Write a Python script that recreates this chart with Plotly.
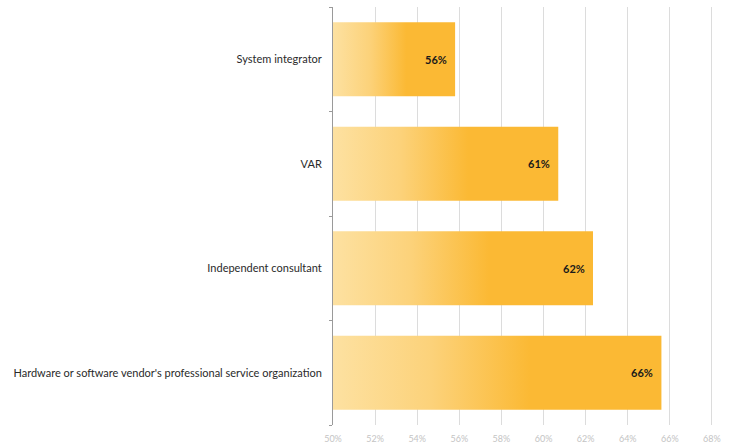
import plotly.graph_objects as go

categories = [
    "System integrator",
    "VAR",
    "Independent consultant",
    "Hardware or software vendor's professional service organization",
]
shares = [55.8, 60.7, 62.35, 65.6]
x_ticks = [50, 52, 54, 56, 58, 60, 62, 64, 66, 68]
x_tick_labels = [f"{t}%" for t in x_ticks]

BASE = 50
HALF = 0.355
GRADIENT = [[0.0, "#fde1a1"], [0.3, "#fcd27a"], [0.6, "#fbb934"], [1.0, "#fbb934"]]

fig = go.Figure()
for i, (name, value) in enumerate(zip(categories, shares)):
    fig.add_trace(
        go.Scatter(
            x=[BASE, value, value, BASE, BASE],
            y=[i - HALF, i - HALF, i + HALF, i + HALF, i - HALF],
            mode="lines",
            line=dict(width=0),
            fill="toself",
            fillgradient=dict(type="horizontal", colorscale=GRADIENT),
            hoverinfo="text",
            text=f"{name}: {value:.0f}%",
            showlegend=False,
        )
    )
    fig.add_annotation(
        x=value,
        y=i,
        text=f"<b>{value:.0f}%</b>",
        showarrow=False,
        xanchor="right",
        xshift=-6,
        font=dict(size=11, color="#1a1a1a"),
    )

fig.update_layout(
    width=738,
    height=448,
    margin=dict(l=333, r=25, t=7, b=23),
    plot_bgcolor="white",
    paper_bgcolor="white",
    font=dict(family="Lato, 'Open Sans', sans-serif", size=11, color="#333"),
    xaxis=dict(
        range=[BASE, 68.05],
        tickvals=x_ticks,
        ticktext=x_tick_labels,
        showgrid=True,
        gridcolor="#dcdcdc",
        gridwidth=1,
        zeroline=False,
        showline=False,
        ticks="",
        ticklabelstandoff=7,
        automargin=False,
        tickfont=dict(size=9, color="#c4c4c4"),
    ),
    yaxis=dict(
        range=[len(categories) - 0.5, -0.5],
        tickvals=list(range(len(categories))),
        ticktext=categories,
        ticks="",
        ticklabelstandoff=8,
        automargin=False,
        showgrid=False,
        zeroline=False,
        showline=True,
        linecolor="#9a9a9a",
        linewidth=1,
        tickfont=dict(size=11, color="#2a2a2a"),
        minor=dict(
            tickvals=[k - 0.5 for k in range(len(categories) + 1)],
            ticks="outside",
            ticklen=3,
            tickcolor="#9a9a9a",
            showgrid=False,
        ),
    ),
)

# page body has a default 8px margin; drop it so the figure fills the window
fig.write_html(
    "out.html",
    config={"displayModeBar": False},
    post_script="document.body.style.margin='0'; document.body.style.overflow='hidden';",
)
